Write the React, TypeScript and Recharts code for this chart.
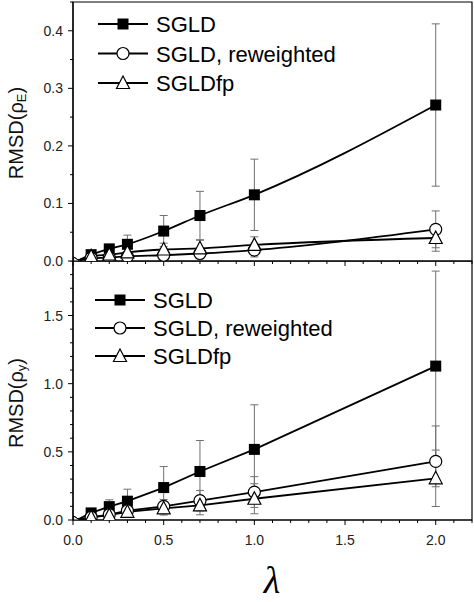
import React from 'react';
import { LineChart, Line, XAxis, YAxis, ErrorBar, Legend, ReferenceArea } from 'recharts';

const lambdas = [0.02, 0.1, 0.2, 0.3, 0.5, 0.7, 1.0, 2.0];
const seriesNames = ['SGLD', 'SGLD, reweighted', 'SGLDfp'];

// top panel: RMSD(rho_E)
const sgldE = [0, 0.011, 0.021, 0.029, 0.052, 0.079, 0.115, 0.271];
const sgldEErr = [0, 0.004, 0.008, 0.016, 0.027, 0.042, 0.062, 0.141];
const rewE = [0, 0.005, 0.006, 0.008, 0.010, 0.013, 0.019, 0.055];
const rewEErr = [0, 0.003, 0.004, 0.005, 0.007, 0.009, 0.012, 0.032];
const fpE = [0, 0.008, 0.011, 0.015, 0.020, 0.022, 0.028, 0.040];
const fpEErr = [0, 0.004, 0.006, 0.008, 0.011, 0.014, 0.014, 0.023];

// bottom panel: RMSD(rho_y)
const sgldY = [0, 0.052, 0.098, 0.138, 0.238, 0.356, 0.518, 1.129];
const sgldYErr = [0, 0.02, 0.05, 0.088, 0.154, 0.227, 0.327, 0.697];
const rewY = [0, 0.02, 0.04, 0.068, 0.100, 0.142, 0.205, 0.430];
const rewYErrLow = [0, 0.01, 0.02, 0.03, 0.05, 0.075, 0.113, 0.186];
const rewYErrHigh = [0, 0.01, 0.02, 0.03, 0.05, 0.075, 0.113, 0.26];
const fpY = [0, 0.02, 0.035, 0.06, 0.086, 0.108, 0.156, 0.306];
const fpYErr = [0, 0.01, 0.02, 0.03, 0.05, 0.07, 0.11, 0.207];

const xTicks = [0, 0.1, 0.2, 0.3, 0.4, 0.5, 0.6, 0.7, 0.8, 0.9, 1.0, 1.1, 1.2, 1.3, 1.4, 1.5, 1.6, 1.7, 1.8, 1.9, 2.0, 2.1, 2.2];
const xMajor = [0, 0.5, 1.0, 1.5, 2.0];
const yTicksE = [0, 0.05, 0.1, 0.15, 0.2, 0.25, 0.3, 0.35, 0.4, 0.45];
const yMajorE = [0, 0.1, 0.2, 0.3, 0.4];
const yTicksY = [0, 0.1, 0.2, 0.3, 0.4, 0.5, 0.6, 0.7, 0.8, 0.9, 1.0, 1.1, 1.2, 1.3, 1.4, 1.5, 1.6, 1.7, 1.8, 1.9];
const yMajorY = [0, 0.5, 1.0, 1.5];

const topData = lambdas.map((x, i) => ({
  x,
  sgld: sgldE[i], sgldErr: sgldEErr[i],
  rew: rewE[i], rewErr: rewEErr[i],
  fp: fpE[i], fpErr: fpEErr[i],
}));
const bottomData = lambdas.map((x, i) => ({
  x,
  sgld: sgldY[i], sgldErr: sgldYErr[i],
  rew: rewY[i], rewErr: [rewYErrLow[i], rewYErrHigh[i]],
  fp: fpY[i], fpErr: fpYErr[i],
}));

const FONT = '"Liberation Sans", Arial, sans-serif';
const isIn = (v: number, arr: number[]) => arr.some((a) => Math.abs(a - v) < 1e-6);

const XTick = (props: any) => {
  const { x, y, payload, showLabel } = props;
  const v = payload.value;
  const major = isIn(v, xMajor);
  return (
    <g>
      <line x1={x} x2={x} y1={y} y2={y + (major ? 5 : 3)} stroke="#000" strokeWidth={1} />
      {showLabel && major && (
        <text x={x} y={y + 25} textAnchor="middle" fontSize={14} fontFamily={FONT} fill="#222">
          {v.toFixed(1)}
        </text>
      )}
    </g>
  );
};

const YTick = (props: any) => {
  const { x, y, payload, majors } = props;
  const v = payload.value;
  const major = isIn(v, majors);
  return (
    <g>
      <line x1={x - (major ? 5 : 3)} x2={x} y1={y} y2={y} stroke="#000" strokeWidth={1} />
      {major && (
        <text x={x - 10} y={y + 5} textAnchor="end" fontSize={14} fontFamily={FONT} fill="#222">
          {v.toFixed(1)}
        </text>
      )}
    </g>
  );
};

const yLabel = (sub: string, cy: number) => () => (
  <text
    x={16}
    y={cy}
    transform={`rotate(-90 16 ${cy})`}
    textAnchor="middle"
    fontSize={20}
    fontFamily={FONT}
    fill="#111"
    dominantBaseline="central"
  >
    RMSD(ρ
    <tspan dy={5} fontSize={13}>{sub}</tspan>
    <tspan dy={-5}>)</tspan>
  </text>
);

const Marker = ({ kind, cx, cy }: { kind: number; cx: number; cy: number }) => {
  if (kind === 0) return <rect x={cx - 5.5} y={cy - 5.5} width={11} height={11} fill="#000" />;
  if (kind === 1) return <circle cx={cx} cy={cy} r={6} fill="#fff" stroke="#000" strokeWidth={1.2} />;
  return (
    <polygon
      points={`${cx},${cy - 7} ${cx - 6.5},${cy + 5.5} ${cx + 6.5},${cy + 5.5}`}
      fill="#fff"
      stroke="#000"
      strokeWidth={1.2}
    />
  );
};

// The point closest to lambda = 0 sits on the axis corner; only a sliver of it shows.
const makeDot = (kind: number) => (props: any) => {
  const { cx, cy, index } = props;
  if (cx == null || cy == null) return <g key={`d${kind}-${index}`} />;
  if (index === 0) {
    return (
      <g key={`d${kind}-${index}`}>
        <polygon points={`${cx - 3},${cy - 4} ${cx + 3},${cy} ${cx - 3},${cy}`} fill="#fff" stroke="#000" strokeWidth={1} />
      </g>
    );
  }
  return (
    <g key={`d${kind}-${index}`}>
      <Marker kind={kind} cx={cx} cy={cy} />
    </g>
  );
};

const makeLegend = (rowGap: number) => (props: any) => {
  const payload = props.payload || [];
  return (
    <svg width={330} height={110}>
      {payload.map((p: any, i: number) => {
        const y = 14 + i * rowGap;
        return (
          <g key={i}>
            <line x1={3} x2={53} y1={y} y2={y} stroke="#000" strokeWidth={1.8} />
            <Marker kind={i} cx={28} cy={y} />
            <text x={61} y={y + 8} fontSize={22} fontFamily={FONT} fill="#000">
              {p.value}
            </text>
          </g>
        );
      })}
    </svg>
  );
};

const ERR_COLOR = '#707070';

const lambdaLabel = () => (
  <text
    x={272}
    y={332}
    textAnchor="middle"
    fontSize={38}
    fontStyle="italic"
    fontFamily='"Liberation Serif", "DejaVu Serif", serif'
    fill="#000"
  >
    λ
  </text>
);

const Panel = (props: {
  data: any[];
  height: number;
  top: number;
  marginTop: number;
  xAxisHeight: number;
  showXLabels: boolean;
  yDomain: [number, number];
  yTicks: number[];
  yMajor: number[];
  sub: string;
  labelCy: number;
  curve: 'monotone' | 'linear';
  legendLeft: number;
  legendTop: number;
  rowGap: number;
  xTitle?: boolean;
}) => {
  const p = props;
  return (
    <div style={{ position: 'absolute', left: 0, top: p.top }}>
      <LineChart
        width={474}
        height={p.height}
        data={p.data}
        margin={{ top: p.marginTop, right: 2, left: 0, bottom: 0 }}
      >
        <XAxis
          dataKey="x"
          type="number"
          domain={[0, 2.2]}
          ticks={xTicks}
          interval={0}
          allowDataOverflow
          height={p.xAxisHeight}
          tickSize={0}
          tickMargin={0}
          tickLine={false}
          axisLine={{ stroke: '#000', strokeWidth: 1.2 }}
          tick={(tp: any) => <XTick {...tp} showLabel={p.showXLabels} />}
          label={p.xTitle ? lambdaLabel : undefined}
        />
        <YAxis
          type="number"
          domain={p.yDomain}
          ticks={p.yTicks}
          interval={0}
          allowDataOverflow
          width={73}
          tickSize={0}
          tickMargin={0}
          tickLine={false}
          axisLine={{ stroke: '#000', strokeWidth: 1.2 }}
          tick={(tp: any) => <YTick {...tp} majors={p.yMajor} />}
          label={yLabel(p.sub, p.labelCy)}
        />
        <ReferenceArea
          x1={0}
          x2={2.2}
          y1={p.yDomain[0]}
          y2={p.yDomain[1]}
          fill="none"
          stroke="#000"
          strokeWidth={1.2}
          ifOverflow="visible"
        />
        <Legend
          layout="horizontal"
          verticalAlign="middle"
          align="center"
          content={makeLegend(p.rowGap)}
          wrapperStyle={{ left: p.legendLeft, top: p.legendTop, width: 330, height: 110 }}
        />
        <Line
          dataKey="sgld"
          name={seriesNames[0]}
          type={p.curve}
          stroke="#000"
          strokeWidth={1.8}
          dot={makeDot(0)}
          isAnimationActive={false}
        >
          <ErrorBar dataKey="sgldErr" direction="y" width={4} stroke={ERR_COLOR} strokeWidth={1} />
        </Line>
        <Line
          dataKey="rew"
          name={seriesNames[1]}
          type={p.curve}
          stroke="#000"
          strokeWidth={1.8}
          dot={makeDot(1)}
          isAnimationActive={false}
        >
          <ErrorBar dataKey="rewErr" direction="y" width={4} stroke={ERR_COLOR} strokeWidth={1} />
        </Line>
        <Line
          dataKey="fp"
          name={seriesNames[2]}
          type={p.curve}
          stroke="#000"
          strokeWidth={1.8}
          dot={makeDot(2)}
          isAnimationActive={false}
        >
          <ErrorBar dataKey="fpErr" direction="y" width={4} stroke={ERR_COLOR} strokeWidth={1} />
        </Line>
      </LineChart>
    </div>
  );
}

export default function App() {
  return (
    <div style={{ position: 'absolute', left: 0, top: 0, width: 474, height: 602, background: '#fff' }}>
      <Panel
        data={topData}
        height={268}
        top={0}
        marginTop={2}
        xAxisHeight={7}
        showXLabels={false}
        yDomain={[0, 0.45]}
        yTicks={yTicksE}
        yMajor={yMajorE}
        sub="E"
        labelCy={133}
        curve="monotone"
        legendLeft={95}
        legendTop={10}
        rowGap={29.5}
      />
      <Panel
        data={bottomData}
        height={341}
        top={261}
        marginTop={0}
        xAxisHeight={82}
        showXLabels={true}
        yDomain={[0, 1.9]}
        yTicks={yTicksY}
        yMajor={yMajorY}
        sub="y"
        labelCy={142}
        curve="linear"
        legendLeft={92}
        legendTop={25}
        rowGap={28}
        xTitle
      />
    </div>
  );
}
